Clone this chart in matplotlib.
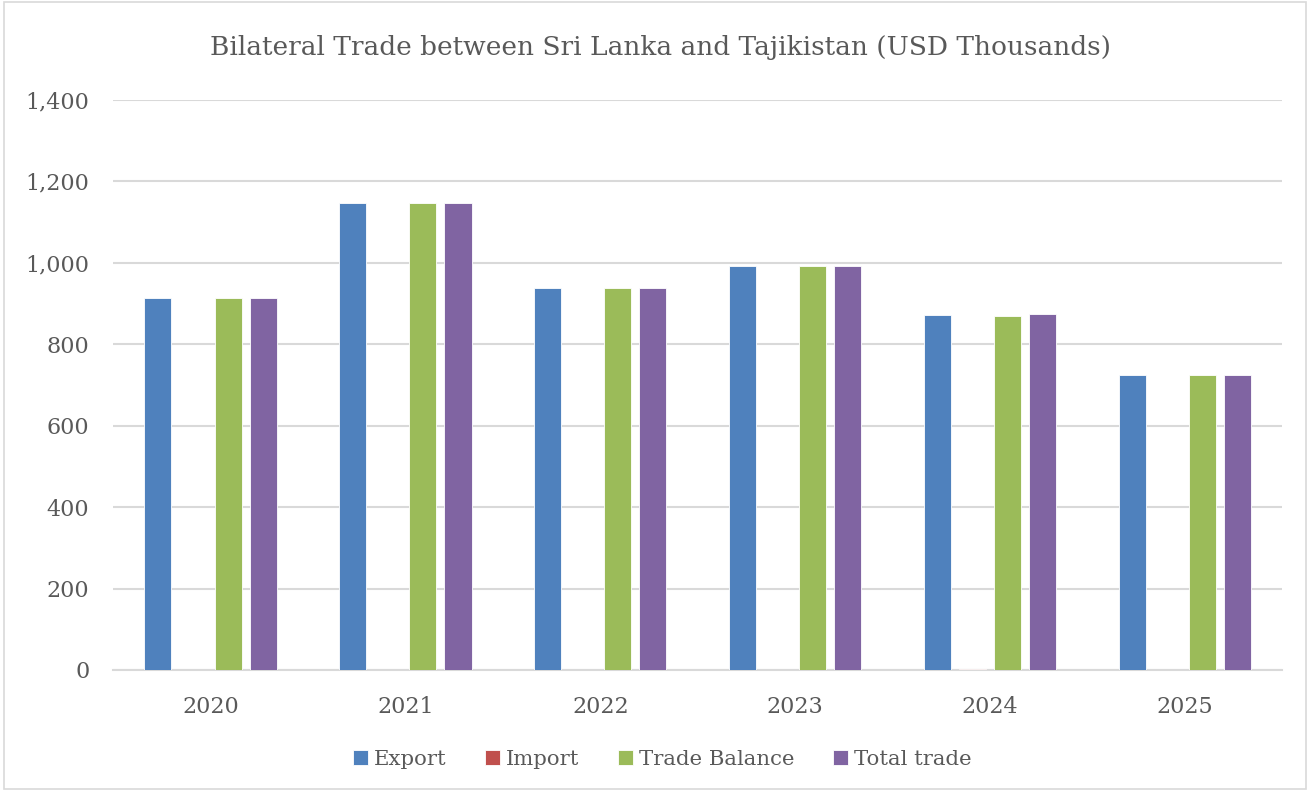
import matplotlib.pyplot as plt
import numpy as np
from matplotlib.patches import Rectangle

# 数据
years = ["2020", "2021", "2022", "2023", "2024", "2025"]
export = [913, 1147, 938, 992, 872, 725]
imports = [0, 0, 0, 0, 3, 0]
trade_balance = [913, 1147, 938, 992, 869, 725]
total_trade = [913, 1147, 938, 992, 875, 725]

series_names = ["Export", "Import", "Trade Balance", "Total trade"]
colors = ["#4F81BD", "#C0504D", "#9BBB59", "#8064A2"]

plt.rcParams['font.family'] = ['DejaVu Serif']
text_color = "#595959"

fig = plt.figure(figsize=(13.1, 7.91), dpi=100)
ax = fig.add_axes([0.0863, 0.153, 0.8927, 0.7206])

x = np.arange(len(years))
w = 0.139
step = 0.18
for i, (vals, name, c) in enumerate(zip([export, imports, trade_balance, total_trade], series_names, colors)):
    ax.bar(x + (i - 1.5) * step, vals, width=w, color=c, label=name, zorder=3,
           edgecolor="white", linewidth=0.6)

ax.set_xlim(-0.5, len(years) - 0.5)
ax.set_ylim(0, 1400)
ax.set_yticks(range(0, 1401, 200))
ax.yaxis.set_major_formatter(plt.FuncFormatter(lambda v, p: f"{int(v):,}"))
ax.set_xticks(x)
ax.set_xticklabels(years)
ax.grid(axis="y", color="#d9d9d9", linewidth=1.5, zorder=0)
for s in ["top", "right", "left"]:
    ax.spines[s].set_visible(False)
ax.spines["bottom"].set_color("#d9d9d9")
ax.spines["bottom"].set_linewidth(1.5)
ax.tick_params(length=0, labelsize=16, colors=text_color)
ax.tick_params(axis="x", pad=19)
ax.tick_params(axis="y", pad=17)

fig.text(0.504, 0.94, "Bilateral Trade between Sri Lanka and Tajikistan (USD Thousands)",
         ha="center", va="center", fontsize=19, color=text_color)

fig.legend(loc="center", bbox_to_anchor=(0.5055, 0.04), ncol=4, frameon=False,
           fontsize=15.3, labelcolor=text_color, handlelength=0.7, handleheight=0.7,
           handletextpad=0.3, columnspacing=1.8)

# 外框
fig.patches.append(Rectangle((0.003, 0.003), 0.994, 0.994, transform=fig.transFigure,
                             fill=False, edgecolor="#d9d9d9", linewidth=1.2))

fig.savefig("out.png", dpi=100)
